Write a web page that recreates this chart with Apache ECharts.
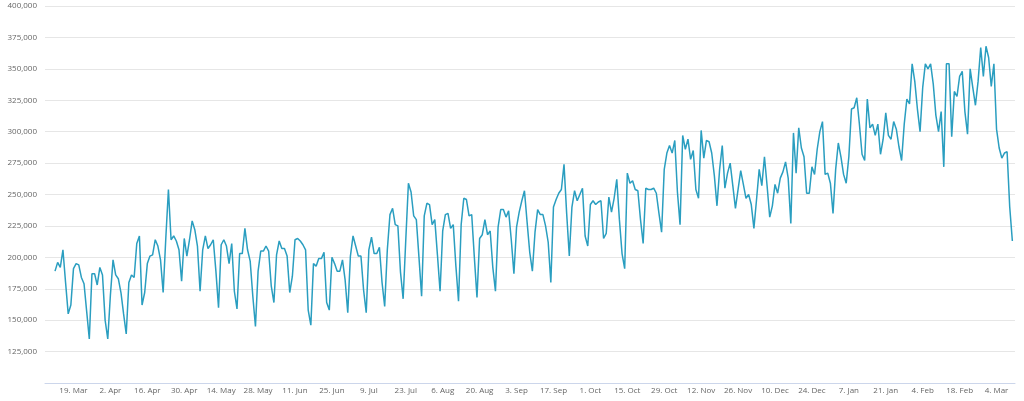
<!DOCTYPE html>
<html>
<head>
<meta charset="utf-8">
<script src="https://cdn.jsdelivr.net/npm/echarts@6/dist/echarts.min.js"></script>
<style>
html,body{margin:0;padding:0;background:#fff;}
#c{width:1024px;height:401px;}
</style>
</head>
<body>
<div id="c"></div>
<script>
// Daily transactions, one value per day starting 12 Mar (index 0)
const transactions = [
189000,196000,192000,206000,180000,155000,162000,191000,195000,194000,
184000,179000,157000,135000,187000,187000,178000,192000,186000,150000,
135000,170000,198000,186000,183000,172000,155000,139000,180000,186000,
184000,211000,217000,162000,172000,195000,201000,202000,214000,209000,
198000,172000,215000,254000,214000,217000,213000,206000,181000,215000,
201000,214000,229000,222000,209000,173000,206000,217000,207000,210000,
214000,189000,160000,210000,214000,209000,195000,211000,173000,159000,
203000,203000,223000,206000,197000,169000,145000,189000,205000,205000,
209000,205000,177000,164000,202000,213000,207000,207000,201000,172000,
185000,214000,215000,213000,210000,206000,158000,146000,195000,193000,
199000,199000,204000,164000,158000,200000,195000,189000,189000,198000,
182000,156000,201000,217000,209000,201000,201000,174000,156000,206000,
216000,203000,203000,208000,180000,161000,206000,234000,239000,226000,
225000,188000,167000,214000,259000,252000,233000,230000,200000,169000,
233000,243000,242000,226000,230000,202000,173000,221000,234000,235000,
223000,226000,193000,165000,226000,247000,246000,233000,234000,200000,
168000,215000,218000,230000,218000,221000,192000,173000,224000,238000,
238000,232000,237000,214000,187000,224000,236000,245000,253000,228000,
204000,189000,220000,238000,234000,234000,225000,212000,180000,240000,
246000,251000,254000,274000,235000,201000,240000,253000,245000,250000,
255000,217000,209000,242000,245000,242000,244000,245000,215000,219000,
248000,236000,247000,262000,230000,203000,191000,267000,259000,261000,
254000,253000,230000,211000,255000,254000,254000,255000,251000,235000,
220000,270000,283000,289000,283000,293000,252000,226000,297000,286000,
294000,278000,285000,254000,247000,301000,279000,293000,292000,283000,
265000,241000,270000,289000,255000,267000,275000,257000,239000,254000,
269000,258000,247000,250000,242000,223000,246000,270000,257000,280000,
257000,232000,241000,258000,251000,263000,268000,276000,263000,227000,
299000,267000,303000,287000,280000,251000,251000,272000,266000,286000,
300000,308000,266000,267000,259000,235000,270000,291000,280000,266000,
259000,280000,318000,319000,327000,306000,282000,277000,326000,303000,
306000,297000,306000,282000,294000,315000,297000,294000,308000,302000,
288000,277000,306000,326000,322000,354000,340000,318000,300000,335000,
354000,350000,354000,338000,313000,300000,316000,272000,354000,354000,
296000,332000,328000,344000,348000,316000,298000,350000,335000,321000,
340000,367000,344000,368000,359000,336000,354000,302000,287000,279000,
283000,284000,240000,213000
];

// Tick labels (every 14 days, first one is day index 7)
const tickLabels = [
'19. Mar','2. Apr','16. Apr','30. Apr','14. May','28. May','11. Jun','25. Jun',
'9. Jul','23. Jul','6. Aug','20. Aug','3. Sep','17. Sep','1. Oct','15. Oct',
'29. Oct','12. Nov','26. Nov','10. Dec','24. Dec','7. Jan','21. Jan','4. Feb',
'18. Feb','4. Mar'
];
const firstTickDay = 7;
const tickStep = 14;

const yTicks = [100000,125000,150000,175000,200000,225000,250000,275000,300000,325000,350000,375000,400000];

const tickDays = tickLabels.map((_, k) => firstTickDay + k * tickStep);
const seriesData = transactions.map((v, i) => [i, v]);

const chart = echarts.init(document.getElementById('c'), null, {renderer: 'canvas'});
chart.setOption({
  animation: false,
  backgroundColor: '#ffffff',
  grid: {left: 45, right: 9, top: 6, bottom: 18, containLabel: false, outerBoundsMode: 'none'},
  xAxis: {
    type: 'value',
    min: -3.8,
    max: 364,
    splitLine: {show: false},
    axisLine: {show: true, lineStyle: {color: '#ccd6eb', width: 1}},
    axisTick: {show: false},
    axisLabel: {
      customValues: tickDays,
      color: '#666666',
      fontSize: 8,
      fontFamily: 'Open Sans, DejaVu Sans, sans-serif',
      margin: 4,
      formatter: function (v) {
        const k = Math.round((v - firstTickDay) / tickStep);
        return tickLabels[k] || '';
      }
    }
  },
  yAxis: {
    type: 'value',
    min: yTicks[0],
    max: yTicks[yTicks.length - 1],
    interval: 25000,
    name: 'Transactions',
    nameLocation: 'middle',
    nameRotate: 90,
    nameGap: 38,
    nameTextStyle: {color: '#666666', fontSize: 7, fontFamily: 'Open Sans, DejaVu Sans, sans-serif'},
    axisLine: {show: false},
    axisTick: {show: false},
    splitLine: {show: true, lineStyle: {color: '#e6e6e6', width: 1}},
    axisLabel: {
      showMinLabel: false,
      color: '#666666',
      fontSize: 8,
      fontFamily: 'Open Sans, DejaVu Sans, sans-serif',
      margin: 8,
      formatter: function (v) { return v === yTicks[0] ? '' : v.toLocaleString('en-US'); }
    }
  },
  series: [{
    type: 'line',
    data: seriesData,
    showSymbol: false,
    smooth: false,
    lineStyle: {color: '#2a9ec0', width: 1.5},
    itemStyle: {color: '#2a9ec0'}
  }]
});
</script>
</body>
</html>
